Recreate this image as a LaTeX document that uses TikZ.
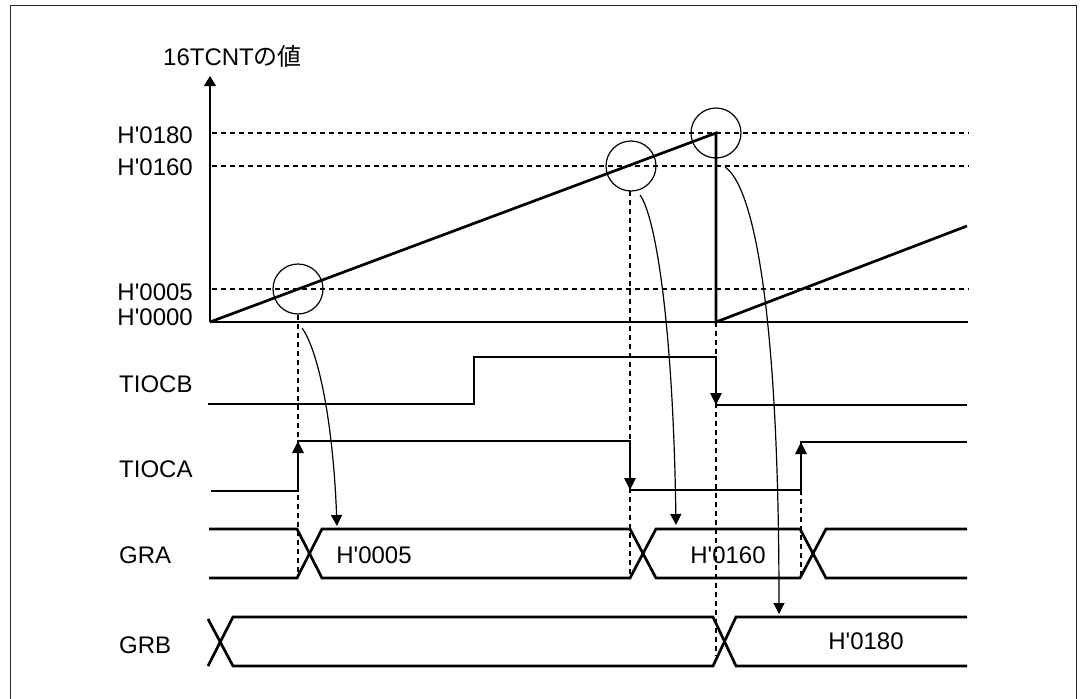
\documentclass[tikz,border=0pt]{standalone}
\usepackage{fontspec}
\setmainfont{Liberation Sans}[Ligatures=TeXOff]
\newfontfamily\cjk{Noto Sans CJK JP}
\usetikzlibrary{arrows.meta}
\begin{document}
\begin{tikzpicture}[x=1pt,y=-1pt,
  sig/.style={line width=2.7pt, line join=miter},
  thinln/.style={line width=1.2pt},
  dsh/.style={line width=1.2pt, dash pattern=on 5pt off 4pt},
  lbl/.style={font=\fontsize{24}{28}\selectfont, inner sep=0pt},
  sigtip/.style={-{Triangle[length=12pt,width=11pt]}},
  curtip/.style={-{Triangle[length=11pt,width=11pt]}},
]
\useasboundingbox (0,0) rectangle (1080,699);
\fill[white] (0,0) rectangle (1080,699);
% frame
\draw[line width=1pt, black!85] (10,699) -- (10,5) -- (1076,5) -- (1076,699);

% coordinates
\coordinate (O) at (210,322);
\coordinate (top) at (210,76);
\coordinate (peak) at (716,133);
\coordinate (drop) at (716,322);
\coordinate (endramp) at (967,226);

% horizontal dashed levels
\draw[dsh] (212,133) -- (969,133);
\draw[dsh] (212,166) -- (969,166);
\draw[dsh] (212,289) -- (969,289);
% vertical dashed
\draw[dsh] (298,315) -- (298,578);
\draw[dsh] (630,191) -- (630,578);
\draw[dsh] (716,322) -- (716,656);
\draw[dsh] (801,490) -- (801,578);

% axis
\draw[thinln, -{Triangle[length=10pt,width=12pt]}] (O) -- (top);
\draw[thinln] (O) -- (968,322);

% ramp
\draw[sig] (O) -- (peak) -- (drop) -- (endramp);

% circles
\node[draw, thinln, circle, minimum size=50pt, inner sep=0pt] (c1) at (298,289) {};
\node[draw, thinln, circle, minimum size=50pt, inner sep=0pt] (c2) at (631,166) {};
\node[draw, thinln, circle, minimum size=50pt, inner sep=0pt] (c3) at (716,133) {};

% TIOCB
\draw[sig] (208,404) -- (474,404) -- (474,357) -- (716,357) -- (716,405) -- (967,405);
\draw[sig, sigtip] (716,385) -- (716,405);
% TIOCA
\draw[sig] (211,491) -- (298,491) -- (298,441) -- (630,441) -- (630,490) -- (801,490) -- (801,442) -- (967,442);
\draw[sig, sigtip] (298,461) -- (298,441);
\draw[sig, sigtip] (630,470) -- (630,490);
\draw[sig, sigtip] (801,462) -- (801,442);

% GRA bus
\draw[sig] (209,529) -- (297,529) -- (322,578) -- (630,578) -- (656,529) -- (800,529) -- (826,578) -- (967,578);
\draw[sig] (209,578) -- (297,578) -- (322,529) -- (630,529) -- (656,578) -- (800,578) -- (826,529) -- (967,529);
% GRB bus
\draw[sig] (208,619) -- (233,666) -- (713,666) -- (736,617) -- (967,617);
\draw[sig] (208,666) -- (233,617) -- (713,617) -- (736,666) -- (967,666);

% curved arrows
\coordinate (a1s) at (302,328);
\coordinate (a1e) at (337,526);
\coordinate (a2s) at (640,195);
\coordinate (a2e) at (676,525);
\coordinate (a3s) at (725,167);
\coordinate (a3e) at (779,614);
\draw[thinln, curtip] (a1s) .. controls (318,350) and (333,420) .. (a1e);
\draw[thinln, curtip] (a2s) .. controls (655,215) and (673,320) .. (a2e);
\draw[thinln, curtip] (a3s) .. controls (752,185) and (779,300) .. (a3e);

% labels
\node[lbl, anchor=base west] (ylab) at (163,65) {16TCNT{\cjk の値}};
\node[lbl, anchor=base east] (l180) at (193,143) {H'0180};
\node[lbl, anchor=base east] (l160) at (193,175) {H'0160};
\node[lbl, anchor=base east] (l005) at (193,300) {H'0005};
\node[lbl, anchor=base east] (l000) at (193,325) {H'0000};
\node[lbl, anchor=base west] (ltiocb) at (119,392) {TIOCB};
\node[lbl, anchor=base west] (ltioca) at (119,477) {TIOCA};
\node[lbl, anchor=base west] (lgra) at (119,563) {GRA};
\node[lbl, anchor=base west] (lgrb) at (119,653) {GRB};
\node[lbl, anchor=base] (v1) at (374,563) {H'0005};
\node[lbl, anchor=base] (v2) at (728,563) {H'0160};
\node[lbl, anchor=base] (v3) at (866,649) {H'0180};
\end{tikzpicture}
\end{document}
